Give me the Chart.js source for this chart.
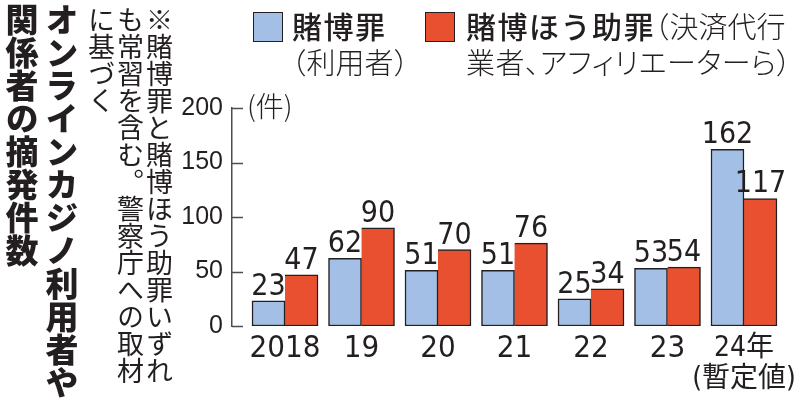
<!DOCTYPE html>
<html lang="ja">
<head>
<meta charset="utf-8">
<script src="https://cdn.jsdelivr.net/npm/chart.js@4.4.1/dist/chart.umd.min.js"></script>
<style>
  html, body { margin: 0; padding: 0; background: #fff; }
  #wrap { position: relative; width: 800px; height: 400px; overflow: hidden; color: #231f20;
    font-family: 'Noto Sans CJK JP', sans-serif; }
  #wrap canvas { position: absolute; left: 0; top: 0; }
  .vert { position: absolute; writing-mode: vertical-rl; white-space: nowrap; }
  #title { left: 2px; top: 3px; font-size: 33px; font-weight: 900; line-height: 40px; }
  #note { left: 87px; top: 6px; font-size: 27px; font-weight: 400; line-height: 29px; }
  .box { position: absolute; top: 12px; width: 30px; height: 30px; box-sizing: border-box;
    border: 1.5px solid #231f20; }
  .leg { position: absolute; top: 7px; font-size: 29px; line-height: 36px; font-weight: 300;
    white-space: nowrap; }
  .leg b { font-weight: 500; font-size: 30px; letter-spacing: 1.5px; }
  .half { font-feature-settings: "halt"; }
  .prop { font-feature-settings: "palt"; letter-spacing: 0.5px; }
  #unit { position: absolute; left: 247px; top: 91px; font-size: 28px; line-height: 28px; font-weight: 300; }
</style>
</head>
<body>
<div id="wrap">
  <canvas id="chart" width="800" height="400"></canvas>
  <div id="title" class="vert">オンラインカジノ利用者や<br>関係者の摘発件数</div>
  <div id="note" class="vert">※賭博罪と賭博ほう助罪いずれ<br>も常習を含む。警察庁への取材<br>に基づく</div>
  <div class="box" style="left:253px;background:#a4bfe6"></div>
  <div class="leg" style="left:292px"><b>賭博罪</b><br><span class="half">（</span>利用者<span class="half">）</span></div>
  <div class="box" style="left:425px;background:#e85030"></div>
  <div class="leg" style="left:466px"><b>賭博ほう助罪</b><span class="half">（</span>決済代行<br><span class="prop">業者、アフィリエーターら）</span></div>
  <div id="unit">(件)</div>
</div>
<script>
// 摘発件数（件）
const years = ['2018', '19', '20', '21', '22', '23', ['24年', '(暫定値)']];
const gambling = [23, 62, 51, 51, 25, 53, 162];      // 賭博罪（利用者）
const aiding = [47, 90, 70, 76, 34, 54, 117];        // 賭博ほう助罪
const yTicks = [0, 50, 100, 150, 200];

const ink = '#231f20';
const narrow = "'Liberation Sans Narrow', 'DejaVu Sans Condensed', 'Noto Sans CJK JP'";

// Skalenstriche nach innen
const innerTicks = {
  id: 'innerTicks',
  afterDatasetsDraw(chart) {
    const y = chart.scales.y;
    const x0 = chart.chartArea.left;
    const ctx = chart.ctx;
    ctx.save();
    ctx.strokeStyle = '#4d4d4d';
    ctx.lineWidth = 1.5;
    y.ticks.forEach(t => {
      const py = Math.round(y.getPixelForValue(t.value)) + 0.5;
      ctx.beginPath();
      ctx.moveTo(x0, py);
      ctx.lineTo(x0 + 11, py);
      ctx.stroke();
    });
    ctx.restore();
  }
};

// Werte über den Balken
const valueLabels = {
  id: 'valueLabels',
  afterDatasetsDraw(chart) {
    const ctx = chart.ctx;
    ctx.save();
    ctx.font = '30px ' + narrow;
    ctx.fillStyle = ink;
    ctx.textAlign = 'center';
    ctx.textBaseline = 'alphabetic';
    chart.data.datasets.forEach((ds, di) => {
      chart.getDatasetMeta(di).data.forEach((bar, i) => {
        ctx.fillText(String(ds.data[i].y), bar.x, bar.y - 6);
      });
    });
    ctx.restore();
  }
};

new Chart(document.getElementById('chart'), {
  type: 'bar',
  data: {
    datasets: [
      {
        label: '賭博罪（利用者）',
        data: gambling.map((v, i) => ({ x: i, y: v })),
        backgroundColor: '#a4bfe6',
        borderColor: ink,
        borderWidth: 1.5,
        borderSkipped: false,
        barThickness: 33
      },
      {
        label: '賭博ほう助罪（決済代行業者、アフィリエーターら）',
        data: aiding.map((v, i) => ({ x: i, y: v })),
        backgroundColor: '#e85030',
        borderColor: ink,
        borderWidth: 1.5,
        borderSkipped: 'left',
        barThickness: 33
      }
    ]
  },
  options: {
    responsive: false,
    animation: false,
    layout: { padding: { top: 108, right: 18, left: 0, bottom: 0 } },
    plugins: {
      legend: { display: false },
      tooltip: { enabled: false }
    },
    scales: {
      x: {
        type: 'linear',
        offset: false,
        min: -0.693,
        max: 6.497,
        grid: { display: false, drawTicks: false },
        border: { display: false },
        afterBuildTicks: s => { s.ticks = years.map((_, i) => ({ value: i })); },
        afterFit: s => { s.height = 74; s.paddingLeft = 0; s.paddingRight = 0; },
        ticks: {
          callback: v => years[v],
          autoSkip: false,
          maxRotation: 0,
          padding: 8,
          color: ink,
          // zweizeiliges Label etwas kleiner, damit es passt
          font: c => Array.isArray(years[c.index])
            ? { family: narrow, size: 28, lineHeight: 1.08 }
            : { family: narrow, size: 31, lineHeight: 0.95 }
        }
      },
      y: {
        min: 0,
        max: 200,
        grid: { display: false, drawTicks: false },
        border: { display: true, color: '#4d4d4d', width: 1.5 },
        afterBuildTicks: s => { s.ticks = yTicks.map(v => ({ value: v })); },
        afterFit: s => { s.width = 232; },
        ticks: {
          padding: 9,
          color: ink,
          font: { family: "'Liberation Sans', sans-serif", size: 25 }
        }
      }
    }
  },
  plugins: [innerTicks, valueLabels]
});
</script>
</body>
</html>
